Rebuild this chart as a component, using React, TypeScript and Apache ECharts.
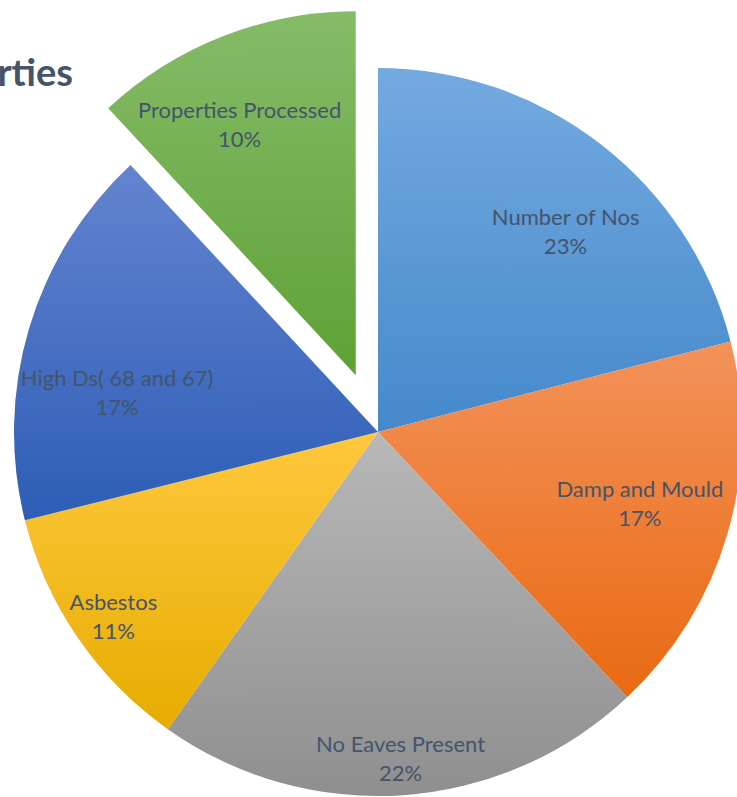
import React, { useEffect, useRef } from "react";
import * as echarts from "echarts";

const categories = [
  "Number of Nos",
  "Damp and Mould",
  "No Eaves Present",
  "Asbestos",
  "High Ds( 68 and 67)",
  "Properties Processed",
];
// slice sizes
const values = [21.0, 17.0, 21.8, 11.3, 17.0, 11.9];
// percentages printed on the labels
const labelPercents = [23, 17, 22, 11, 17, 10];
const titleText = "Properties";

const gradients: [string, string][] = [
  ["#74aae0", "#4589cb"],
  ["#f3925a", "#e96a12"],
  ["#b8b8b8", "#8f8f8f"],
  ["#ffc83e", "#e6ac00"],
  ["#6384cf", "#2d5db6"],
  ["#86bb69", "#5ea235"],
];
// label placement: fraction of radius and angular shift (degrees, clockwise)
const labelRadius = [0.747, 0.737, 0.889, 0.878, 0.717, 0.753];
const labelTurn = [5.3, -1.1, 0, -0.5, -8.0, -3.4];

const CX = 378;
const CY = 432;
const R = 364;

export default function App() {
  const ref = useRef<HTMLDivElement>(null);
  useEffect(() => {
    if (!ref.current) return;
    const chart = echarts.init(ref.current, null, { renderer: "svg" });
    chart.setOption({
      animation: false,
      graphic: [
        {
          type: "text",
          x: 73,
          y: 71,
          style: {
            text: titleText,
            align: "right",
            verticalAlign: "middle",
            fontFamily: "Lato",
            fontWeight: "bold",
            fontSize: 38,
            fill: "#44546a",
          },
        },
      ],
      series: [
        {
          type: "pie",
          center: [CX, CY],
          radius: R,
          startAngle: 90,
          clockwise: true,
          selectedMode: "single",
          selectedOffset: 61,
          emphasis: { disabled: true },
          itemStyle: { borderWidth: 0 },
          label: {
            show: true,
            position: "inside",
            fontFamily: "Lato",
            fontSize: 22,
            lineHeight: 29,
            color: "#44546a",
            formatter: (p: any) => `${p.name}\n${labelPercents[p.dataIndex]}%`,
          },
          labelLine: { show: false },
          labelLayout: (params: any) => {
            const i = params.dataIndex;
            const r = params.labelRect;
            const lx = r.x + r.width / 2;
            const ly = r.y + r.height / 2;
            const vx = lx - CX;
            const vy = ly - CY;
            const d = Math.hypot(vx, vy) || 1;
            const ux = vx / d;
            const uy = vy / d;
            const t = (labelTurn[i] * Math.PI) / 180;
            const rx = ux * Math.cos(t) - uy * Math.sin(t);
            const ry = ux * Math.sin(t) + uy * Math.cos(t);
            const f = labelRadius[i] * R;
            return {
              dx: f * rx - (R / 2) * ux,
              dy: f * ry - (R / 2) * uy,
            };
          },
          data: categories.map((name, i) => ({
            name,
            value: values[i],
            selected: i === 5,
            itemStyle: {
              color: new echarts.graphic.LinearGradient(0, 0, 0, 1, [
                { offset: 0, color: gradients[i][0] },
                { offset: 1, color: gradients[i][1] },
              ]),
            },
          })),
        },
      ],
    });
    return () => chart.dispose();
  }, []);
  return (
    <div
      ref={ref}
      style={{ position: "absolute", left: 0, top: 0, width: 737, height: 797 }}
    />
  );
}
